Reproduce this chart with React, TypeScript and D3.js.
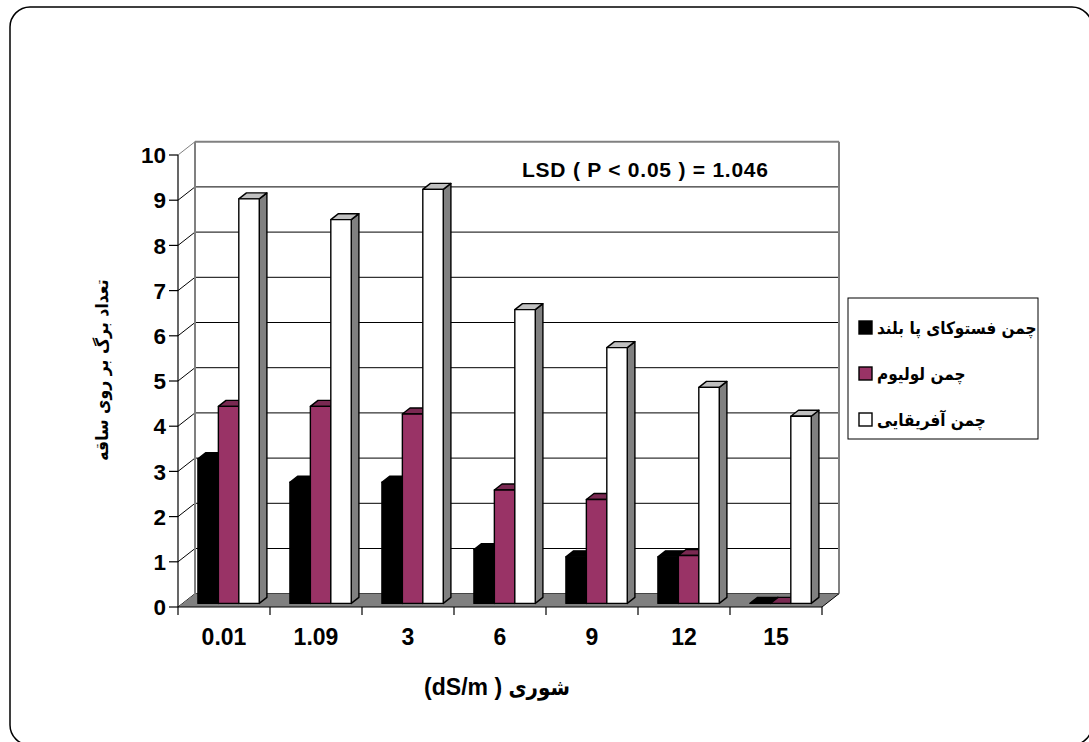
import * as d3 from "d3";

// values
const categories = ["0.01", "1.09", "3", "6", "9", "12", "15"];
const seriesNames = ["چمن فستوکای پا بلند", "چمن لولیوم", "چمن آفریقایی"];
const fescue = [3.2, 2.68, 2.68, 1.19, 1.03, 1.03, 0];
const lolium = [4.36, 4.36, 4.19, 2.51, 2.3, 1.06, 0];
const african = [8.95, 8.49, 9.16, 6.5, 5.66, 4.78, 4.14];
const yTicks = [0, 1, 2, 3, 4, 5, 6, 7, 8, 9, 10];
const yTitle = "تعداد برگ بر روی ساقه";
const xTitleUnit = "(dS/m ) ";
const xTitleWord = "شوری";
const lsdNote = "LSD ( P < 0.05 ) = 1.046";

const seriesValues = [fescue, lolium, african];
const faceColors = [
  { front: "#000000", top: "#000000", side: "#000000" },
  { front: "#993366", top: "#7a2952", side: "#6b2347" },
  { front: "#ffffff", top: "#c0c0c0", side: "#808080" },
];

const W = 1089;
const H = 742;
const latin = "Arial, 'Liberation Sans', sans-serif";
const arabic = "Tahoma, 'DejaVu Sans Condensed', 'DejaVu Sans', sans-serif";

// 3D depth offsets of the box
const DX = 17;
const DY = -13.3;
const F0 = 0.27; // bar front depth
const F1 = 0.72; // bar back depth

export default function App() {
  const x = d3.scaleBand<string>().domain(categories).range([178, 822]).padding(0);
  const xs = d3
    .scaleBand<number>()
    .domain(d3.range(seriesNames.length))
    .range([0, x.bandwidth()])
    .paddingInner(0)
    .paddingOuter(0.75);
  const y = d3.scaleLinear().domain([0, 10]).range([607, 155]);
  const bw = xs.bandwidth();

  const x0 = x.range()[0];
  const x1 = x.range()[1];
  const yb = (v: number) => y(v) + DY; // back wall
  const pts = (p: [number, number][]) => p.map((d) => d.join(",")).join(" ");

  const bars: JSX.Element[] = [];
  categories.forEach((c, ci) => {
    seriesValues.forEach((vals, si) => {
      const v = vals[ci];
      const col = faceColors[si];
      const lx = (x(c) as number) + (xs(si) as number) + DX * F0;
      const rx = lx + bw;
      const ty = y(v) + DY * F0;
      const by = y(0) + DY * F0;
      const ddx = DX * (F1 - F0);
      const ddy = DY * (F1 - F0);
      bars.push(
        <g key={`${ci}-${si}`} stroke="#000" strokeWidth={1.4} strokeLinejoin="round">
          <polygon
            points={pts([[rx, ty], [rx + ddx, ty + ddy], [rx + ddx, by + ddy], [rx, by]])}
            fill={col.side}
          />
          <polygon
            points={pts([[lx, ty], [lx + ddx, ty + ddy], [rx + ddx, ty + ddy], [rx, ty]])}
            fill={col.top}
          />
          {v > 0 && <rect x={lx} y={ty} width={bw} height={by - ty} fill={col.front} />}
        </g>
      );
    });
  });

  return (
    <svg
      width={W}
      height={H}
      style={{ position: "absolute", left: 0, top: 0, background: "#fff" }}
    >
      <rect x={0} y={0} width={W} height={H} fill="#fff" />
      <rect x={10} y={7} width={1082} height={738} rx={20} ry={20} fill="#fff" stroke="#000" strokeWidth={1.5} />

      {/* walls */}
      <polygon
        points={pts([[x0, y(10)], [x0 + DX, yb(10)], [x0 + DX, yb(0)], [x0, y(0)]])}
        fill="#fff"
      />
      {yTicks.map((t) => (
        <g key={t}>
          <line x1={x0 + DX} x2={x1 + DX} y1={yb(t)} y2={yb(t)} stroke={t === 10 ? "#808080" : "#000"} strokeWidth={t === 10 ? 2 : 1} />
          <line x1={x0} x2={x0 + DX} y1={y(t)} y2={yb(t)} stroke={t === 10 ? "#808080" : "#000"} strokeWidth={1} />
        </g>
      ))}
      <line x1={x0 + DX} x2={x0 + DX} y1={yb(10)} y2={yb(0)} stroke="#808080" strokeWidth={2} />
      <line x1={x1 + DX} x2={x1 + DX} y1={yb(10)} y2={yb(0)} stroke="#808080" strokeWidth={2} />

      {/* floor */}
      <polygon
        points={pts([[x0, y(0)], [x1, y(0)], [x1 + DX, yb(0)], [x0 + DX, yb(0)]])}
        fill="#808080"
      />
      <line x1={x1} y1={y(0)} x2={x1 + DX} y2={yb(0)} stroke="#000" strokeWidth={1} />

      {bars}

      {/* axes */}
      <line x1={x0} x2={x0} y1={y(10)} y2={y(0)} stroke="#000" strokeWidth={1.2} />
      <line x1={x0} x2={x1} y1={y(0)} y2={y(0)} stroke="#000" strokeWidth={1.2} />
      {yTicks.map((t) => (
        <g key={`yt${t}`}>
          <line x1={x0 - 9} x2={x0} y1={y(t)} y2={y(t)} stroke="#000" strokeWidth={1.2} />
          <text
            x={x0 - 12}
            y={y(t)}
            dy="0.36em"
            textAnchor="end"
            fontFamily={latin}
            fontWeight="bold"
            fontSize={22.5}
          >
            {t}
          </text>
        </g>
      ))}
      {d3.range(categories.length + 1).map((i) => {
        const tx = x0 + i * x.step();
        return <line key={`xt${i}`} x1={tx} x2={tx} y1={y(0)} y2={y(0) + 8} stroke="#000" strokeWidth={1.2} />;
      })}
      {categories.map((c) => (
        <text
          key={`xl${c}`}
          x={(x(c) as number) + x.bandwidth() / 2}
          y={637}
          dy="0.36em"
          textAnchor="middle"
          fontFamily={latin}
          fontWeight="bold"
          fontSize={23}
        >
          {c}
        </text>
      ))}

      {/* titles */}
      <text x={497} y={689} dy="0.36em" textAnchor="middle" fontWeight="bold">
        <tspan fontFamily={latin} fontSize={23}>
          {xTitleUnit}
        </tspan>
        <tspan fontFamily={arabic} fontSize={22}>
          {xTitleWord}
        </tspan>
      </text>
      <text
        transform={`translate(102,370) rotate(-90)`}
        textAnchor="middle"
        dy="0.36em"
        fontFamily={arabic}
        fontWeight="bold"
        fontSize={17.5}
      >
        {yTitle}
      </text>
      <text
        x={522}
        y={177}
        fontFamily={latin}
        fontWeight="bold"
        fontSize={21}
        textLength={246}
        lengthAdjust="spacing"
      >
        {lsdNote}
      </text>

      {/* legend */}
      <rect x={848} y={298} width={190} height={141} fill="#fff" stroke="#000" strokeWidth={1} />
      {seriesNames.map((name, i) => {
        const cy = 327.5 + i * 46;
        return (
          <g key={name}>
            <rect x={859} y={cy - 6.5} width={13} height={13} fill={faceColors[i].front} stroke="#000" strokeWidth={1.4} />
            <text
              x={877}
              y={cy}
              dy="0.36em"
              textAnchor="start"
              fontFamily={arabic}
              fontWeight="bold"
              fontSize={17}
            >
              {name}
            </text>
          </g>
        );
      })}
    </svg>
  );
}
